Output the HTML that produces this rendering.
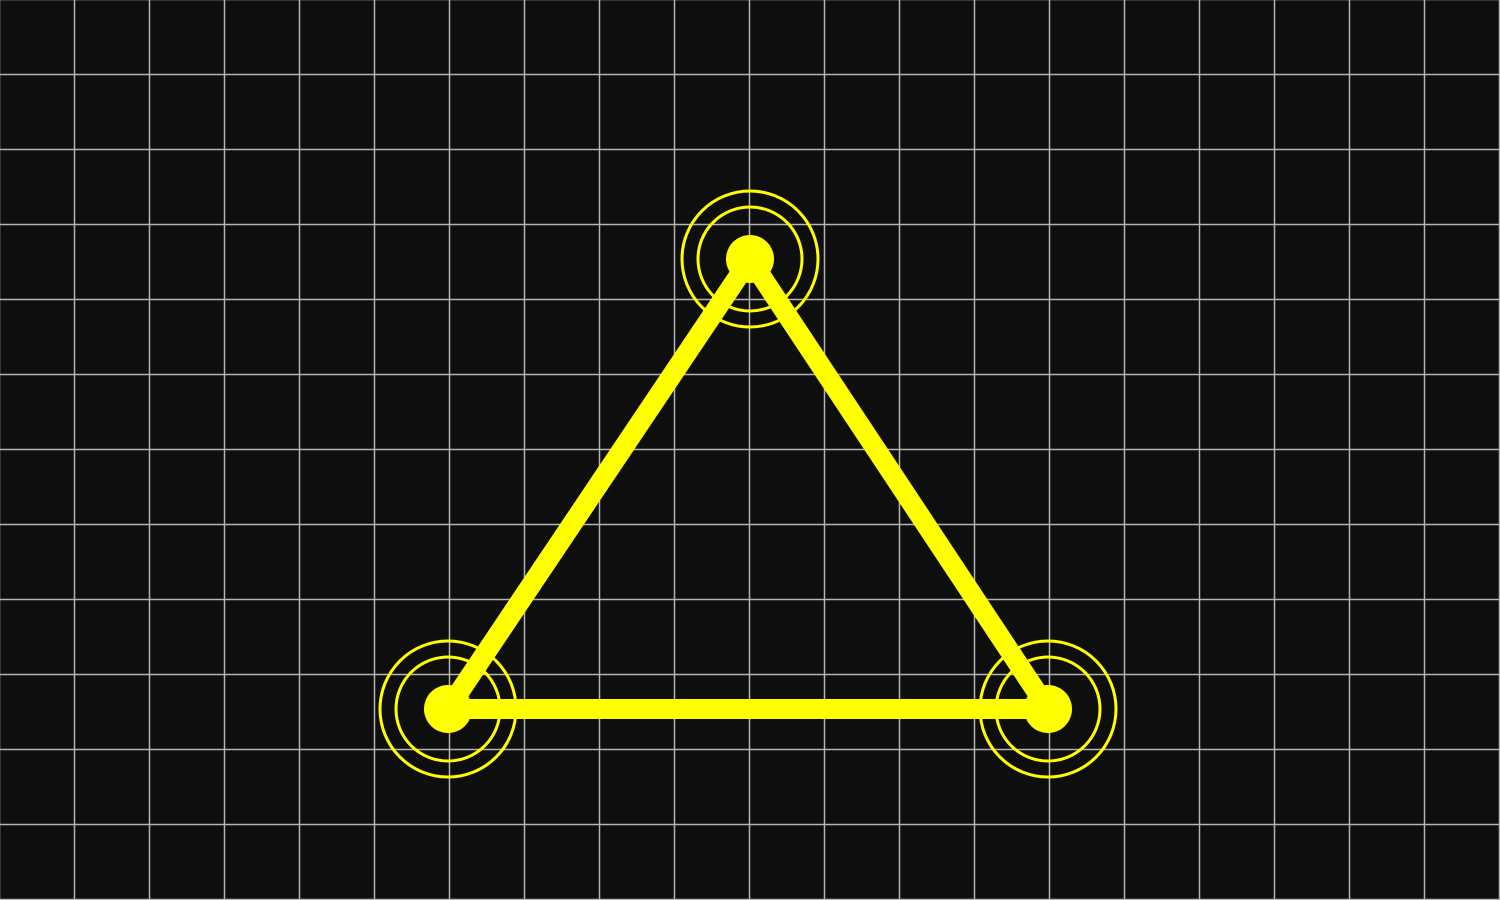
<!DOCTYPE html>
<html><head><meta charset="utf-8"><style>html,body{margin:0;padding:0;background:#0f0e0f}svg{display:block}</style></head>
<body>
<svg id="c" width="1500" height="900"></svg>
<script>
const vertexX = [448, 750, 1048];
const vertexY = [709, 259, 709];
const gridStep = 75;
const ns = 'http://www.w3.org/2000/svg';
const svg = document.getElementById('c');
function mk(t, a){const e=document.createElementNS(ns,t);for(const k in a)e.setAttribute(k,a[k]);svg.appendChild(e);return e;}
mk('rect',{x:0,y:0,width:1500,height:900,fill:'#0f0e0f'});
for(let x=0;x<=1500;x+=gridStep){
  const l=mk('line',{x1:x-0.5,y1:0,x2:x-0.5,y2:900,stroke:'#b4b4b4','stroke-width':1.5});
  
  
}
for(let y=0;y<=900;y+=gridStep){
  const l=mk('line',{x1:0,y1:y-0.5,x2:1500,y2:y-0.5,stroke:'#b4b4b4','stroke-width':1.5});
  
  
}
const pts=vertexX.map((x,i)=>x+','+vertexY[i]).join(' ');
const tri=mk('polygon',{points:pts,fill:'none',stroke:'#ffff00','stroke-width':20,'stroke-linejoin':'round'});


vertexX.forEach((x,i)=>{
  const y=vertexY[i];
  const o=mk('circle',{cx:x,cy:y,r:68,fill:'none',stroke:'#ffff00','stroke-width':3});
  
  
  const n=mk('circle',{cx:x,cy:y,r:52,fill:'none',stroke:'#ffff00','stroke-width':3});
  
  
  const d=mk('circle',{cx:x,cy:y,r:24,fill:'#ffff00'});
  
  
});
</script>
</body></html>
